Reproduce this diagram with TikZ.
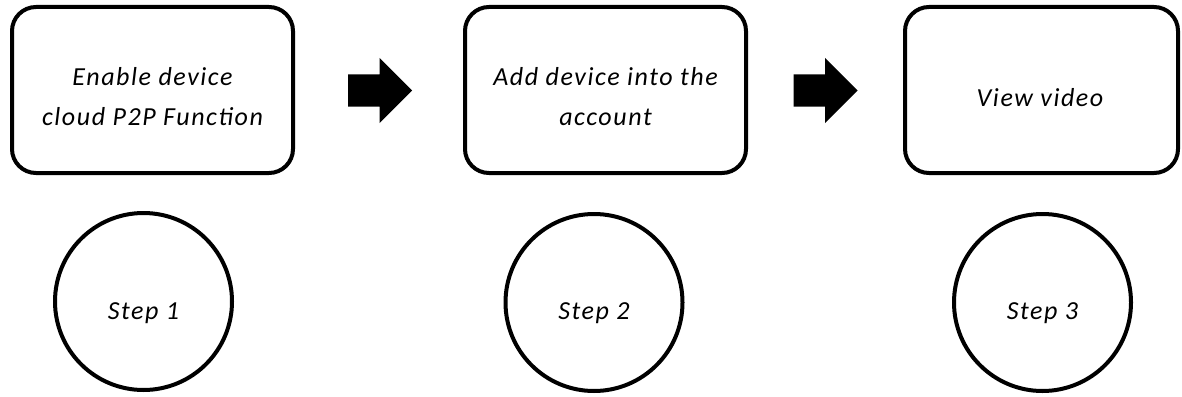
\documentclass[tikz,border=0pt]{standalone}
\usepackage{fontspec}
\setmainfont{Carlito}[LetterSpace=6]
\usetikzlibrary{shapes.arrows}
\tikzset{
  stepbox/.style={draw=black, line width=4pt, rounded corners=24pt, fill=white},
  stepcirc/.style={draw=black, line width=4pt, circle, inner sep=0pt, minimum size=177pt},
  boxtext/.style={font=\fontsize{26}{40}\selectfont\itshape, align=center, inner sep=0pt},
  blockarrow/.style={single arrow, fill=black, draw=none, inner sep=0pt, inner ysep=16pt,
    minimum height=64pt, single arrow head extend=16.5pt, single arrow tip angle=90}
}
\begin{document}
\begin{tikzpicture}[x=1pt,y=-1pt]
\useasboundingbox (0,0) rectangle (1182,396);
% boxes
\draw[stepbox] (12,7) rectangle (293,173);
\node[inner sep=0pt] (b1) at (152.5,90) {};
\draw[stepbox] (465,7) rectangle (746,173);
\node[inner sep=0pt] (b2) at (605.5,90) {};
\draw[stepbox] (905,7) rectangle (1178,173);
\node[inner sep=0pt] (b3) at (1041.5,90) {};
% texts
\node[boxtext, anchor=base] (t1) at (152.5,125) {Enable device\\cloud P2P Function};
\node[boxtext, anchor=base] (t2) at (605.5,125) {Add device into the\\account};
\node[boxtext, anchor=base] (t3) at (1040,106) {View video};
% arrows
\node[blockarrow, anchor=tail] (a1) at (348,90.5) {};
\node[blockarrow, anchor=tail] (a2) at (793.5,90.5) {};
% circles
\node[stepcirc] (c1) at (143.5,301.5) {};
\node[stepcirc] (c2) at (594,302.5) {};
\node[stepcirc] (c3) at (1042.5,302.5) {};
\node[boxtext, anchor=base] (s1) at (143.5,319) {Step 1};
\node[boxtext, anchor=base] (s2) at (594,319) {Step 2};
\node[boxtext, anchor=base] (s3) at (1042.5,319) {Step 3};
\end{tikzpicture}
\end{document}
